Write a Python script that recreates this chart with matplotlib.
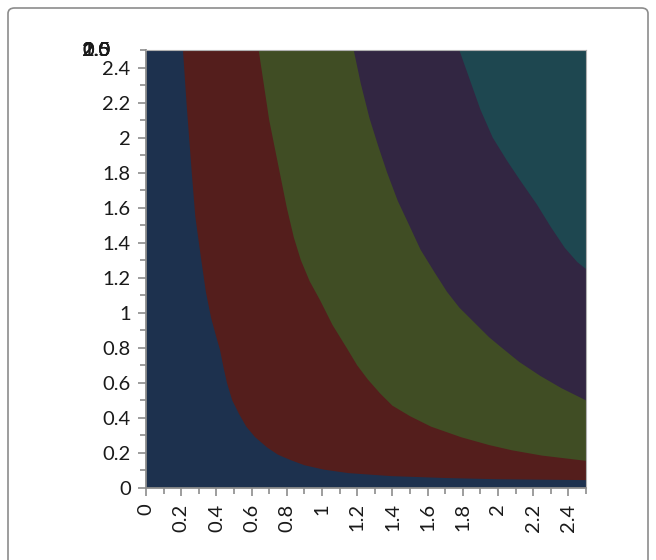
import matplotlib
matplotlib.use("Agg")
import matplotlib.pyplot as plt
from matplotlib.patches import FancyBboxPatch, Polygon
from matplotlib.ticker import MultipleLocator

# band boundaries, from the top edge down to the right edge
b1_x = [0.21, 0.23, 0.26, 0.28, 0.31, 0.34, 0.37, 0.40, 0.42, 0.44, 0.46, 0.49, 0.53,
        0.57, 0.62, 0.69, 0.75, 0.82, 0.90, 1.01, 1.15, 1.39, 1.70, 2.00, 2.50]
b1_y = [2.50, 2.20, 1.80, 1.55, 1.33, 1.12, 0.97, 0.86, 0.79, 0.69, 0.60, 0.50, 0.42,
        0.35, 0.29, 0.23, 0.19, 0.16, 0.13, 0.105, 0.085, 0.068, 0.057, 0.050, 0.045]

b2_x = [0.64, 0.67, 0.70, 0.73, 0.76, 0.80, 0.84, 0.88, 0.93, 0.99, 1.06, 1.14, 1.20,
        1.26, 1.33, 1.40, 1.50, 1.62, 1.79, 1.95, 2.08, 2.25, 2.50]
b2_y = [2.50, 2.30, 2.10, 1.95, 1.80, 1.60, 1.43, 1.30, 1.18, 1.07, 0.93, 0.80, 0.70,
        0.62, 0.54, 0.47, 0.41, 0.35, 0.29, 0.245, 0.215, 0.185, 0.155]

b3_x = [1.18, 1.22, 1.27, 1.32, 1.37, 1.43, 1.50, 1.56, 1.64, 1.71, 1.78, 1.87, 1.95,
        2.01, 2.12, 2.24, 2.36, 2.50]
b3_y = [2.50, 2.31, 2.11, 1.95, 1.80, 1.64, 1.49, 1.36, 1.23, 1.12, 1.03, 0.94, 0.86,
        0.81, 0.72, 0.64, 0.57, 0.50]

b4_x = [1.78, 1.84, 1.90, 1.97, 2.05, 2.13, 2.22, 2.30, 2.38, 2.45, 2.50]
b4_y = [2.50, 2.33, 2.16, 2.00, 1.87, 1.75, 1.62, 1.49, 1.37, 1.29, 1.25]

band_colors = ["#1d314e", "#541e1c", "#404d24", "#322642", "#1e4750"]
series_labels = ["0.0", "0.5", "1.0", "1.5", "2.0", "2.5"]
ticks = [0, 0.2, 0.4, 0.6, 0.8, 1, 1.2, 1.4, 1.6, 1.8, 2, 2.2, 2.4]
tick_labels = ["0", "0.2", "0.4", "0.6", "0.8", "1", "1.2", "1.4", "1.6", "1.8", "2", "2.2", "2.4"]
xmax, ymax = 2.5, 2.5

plt.rcParams["font.family"] = ["Lato", "DejaVu Sans"]

fig = plt.figure(figsize=(6.56, 5.6), dpi=100)
border = FancyBboxPatch((8 / 656, -0.05), 640 / 656, 1 - 8 / 560 + 0.05,
                        boxstyle="round,pad=0,rounding_size=0.01",
                        transform=fig.transFigure, fill=False,
                        edgecolor="#8c8c8c", linewidth=1.2)
fig.patches.append(border)

ax = fig.add_axes([146 / 656, 1 - 488 / 560, 440 / 656, 438 / 560])

# lowest band fills the whole area, each next band covers what lies beyond its boundary
ax.add_patch(Polygon([(0, 0), (xmax, 0), (xmax, ymax), (0, ymax)],
                     closed=True, facecolor=band_colors[0], edgecolor="none"))
for bx, by, col in [(b1_x, b1_y, band_colors[1]), (b2_x, b2_y, band_colors[2]),
                    (b3_x, b3_y, band_colors[3]), (b4_x, b4_y, band_colors[4])]:
    pts = list(zip(bx, by)) + [(xmax, ymax)]
    ax.add_patch(Polygon(pts, closed=True, facecolor=col, edgecolor="none"))

ax.set_xlim(0, xmax)
ax.set_ylim(0, ymax)
ax.set_xticks(ticks)
ax.set_xticklabels(tick_labels, rotation=90)
ax.set_yticks(ticks)
ax.set_yticklabels(tick_labels)
ax.xaxis.set_minor_locator(MultipleLocator(0.1))
ax.yaxis.set_minor_locator(MultipleLocator(0.1))
ax.tick_params(which="major", length=6, width=1.2, color="#8c8c8c",
               labelsize=14.5, labelcolor="#1a1a1a", pad=5)
ax.tick_params(which="minor", length=4, width=1.2, color="#8c8c8c")
for side in ["left", "bottom"]:
    ax.spines[side].set_color("#8c8c8c")
    ax.spines[side].set_linewidth(1.3)
for side in ["top", "right"]:
    ax.spines[side].set_color("#b0b0b0")
    ax.spines[side].set_linewidth(0.8)

# collapsed series labels drawn on top of each other, as in the source
for lab in series_labels:
    fig.text(82 / 656, 1 - 50 / 560, lab, fontsize=14.5, color="#1a1a1a",
             ha="left", va="center")

fig.savefig("out.png", dpi=100)
